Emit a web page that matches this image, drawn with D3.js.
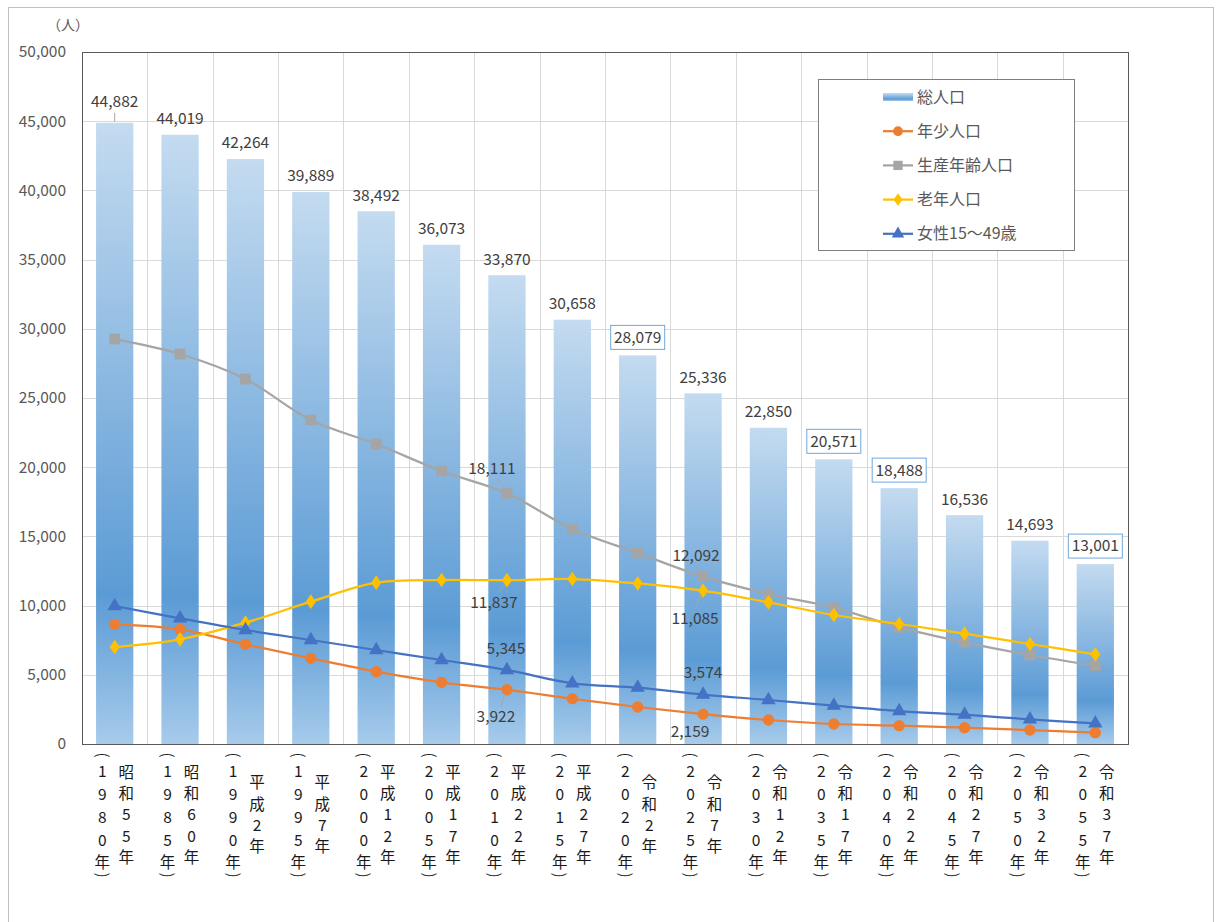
<!DOCTYPE html>
<html>
<head>
<meta charset="utf-8">
<script src="https://cdn.jsdelivr.net/npm/d3@7"></script>
<style>
  body { margin: 0; background: #fff; }
  text { font-family: "Noto Sans CJK JP", "Noto Sans", sans-serif; }
</style>
</head>
<body>
<svg width="1221" height="922"></svg>
<script>
// data
var years = ["1980", "1985", "1990", "1995", "2000", "2005", "2010", "2015",
             "2020", "2025", "2030", "2035", "2040", "2045", "2050", "2055"];
var eras = ["昭和55年", "昭和60年", "平成2年", "平成7年", "平成12年", "平成17年", "平成22年", "平成27年",
            "令和2年", "令和7年", "令和12年", "令和17年", "令和22年", "令和27年", "令和32年", "令和37年"];
var total = [44882, 44019, 42264, 39889, 38492, 36073, 33870, 30658,
             28079, 25336, 22850, 20571, 18488, 16536, 14693, 13001];
var young = [8646, 8284, 7201, 6190, 5226, 4455, 3922, 3275,
             2673, 2159, 1734, 1445, 1325, 1180, 1011, 819];
var working = [29261, 28178, 26371, 23409, 21675, 19724, 18111, 15534,
               13800, 12092, 10838, 9850, 8430, 7348, 6430, 5660];
var elderly = [7008, 7562, 8766, 10283, 11656, 11849, 11837, 11921,
               11608, 11085, 10236, 9320, 8670, 7972, 7225, 6478];
var women = [9971, 9080, 8237, 7514, 6792, 6069, 5345, 4383,
             4070, 3574, 3179, 2770, 2384, 2119, 1782, 1493];
var boxedYears = ["2020", "2035", "2040", "2055"];
var yTicks = [0, 5000, 10000, 15000, 20000, 25000, 30000, 35000, 40000, 45000, 50000];

var svg = d3.select("svg");
var pLeft = 82, pRight = 1128, pTop = 52, pBottom = 744;
var fmt = d3.format(",");

var x = d3.scaleBand()
    .domain(years)
    .range([pLeft, pRight])
    .paddingInner(0.43)
    .paddingOuter(0.215);
var y = d3.scaleLinear().domain([0, 50000]).range([pBottom, pTop]);
var cx = d => x(d) + x.bandwidth() / 2;

var defs = svg.append("defs");
var grad = defs.append("linearGradient")
    .attr("id", "barGrad")
    .attr("x1", 0).attr("y1", 0).attr("x2", 0).attr("y2", 1);
grad.append("stop").attr("offset", 0).attr("stop-color", "#c4dbf0");
grad.append("stop").attr("offset", 0.76).attr("stop-color", "#5b9bd5");
grad.append("stop").attr("offset", 1).attr("stop-color", "#a7cbeb");

// outer frame
svg.append("rect")
    .attr("x", 8.5).attr("y", 7.5).attr("width", 1205).attr("height", 930)
    .attr("fill", "none").attr("stroke", "#bfbfbf");

// grid
svg.append("g").selectAll("line")
    .data(yTicks)
    .enter().append("line")
    .attr("x1", pLeft).attr("x2", pRight)
    .attr("y1", d => Math.round(y(d)) + 0.5).attr("y2", d => Math.round(y(d)) + 0.5)
    .attr("stroke", "#d9d9d9");
svg.append("g").selectAll("line")
    .data(years.slice(1))
    .enter().append("line")
    .attr("x1", d => Math.round(x(d) - x.step() * 0.215) + 0.5)
    .attr("x2", d => Math.round(x(d) - x.step() * 0.215) + 0.5)
    .attr("y1", pTop).attr("y2", pBottom)
    .attr("stroke", "#d9d9d9");

// y tick labels
svg.append("g").selectAll("text")
    .data(yTicks)
    .enter().append("text")
    .attr("x", 66).attr("y", d => y(d))
    .attr("dy", "0.35em")
    .attr("text-anchor", "end")
    .attr("font-size", 15.5)
    .attr("fill", "#595959")
    .text(d => fmt(d));
svg.append("text")
    .attr("x", 68).attr("y", 25)
    .attr("dy", "0.35em")
    .attr("text-anchor", "middle")
    .attr("font-size", 14)
    .attr("fill", "#595959")
    .text("（人）");

// bars
svg.append("g").selectAll("rect")
    .data(years)
    .enter().append("rect")
    .attr("x", d => x(d))
    .attr("width", x.bandwidth())
    .attr("y", (d, i) => y(total[i]))
    .attr("height", (d, i) => pBottom - y(total[i]))
    .attr("fill", "url(#barGrad)");

// plot border
svg.append("rect")
    .attr("x", pLeft + 0.5).attr("y", pTop + 0.5)
    .attr("width", pRight - pLeft).attr("height", pBottom - pTop)
    .attr("fill", "none").attr("stroke", "#595959");

// lines
var line = d3.line()
    .x((d, i) => cx(years[i]))
    .y(d => y(d))
    .curve(d3.curveCatmullRom.alpha(0.5));

var series = [
    { name: "年少人口", values: young, color: "#ed7d31", marker: "circle" },
    { name: "生産年齢人口", values: working, color: "#a5a5a5", marker: "square" },
    { name: "老年人口", values: elderly, color: "#ffc000", marker: "diamond" },
    { name: "女性15～49歳", values: women, color: "#4472c4", marker: "triangle" }
];

function markerPath(type, k) {
    k = k || 1;
    if (type === "circle") return d3.symbol(d3.symbolCircle, 100 * k)();
    if (type === "square") return d3.symbol(d3.symbolSquare, 115 * k)();
    if (type === "diamond") return d3.symbol(d3.symbolDiamond, 62 * k)();
    return d3.symbol(d3.symbolTriangle, 90 * k)();
}

series.forEach(s => {
    var g = svg.append("g");
    g.append("path")
        .attr("d", line(s.values))
        .attr("fill", "none")
        .attr("stroke", s.color)
        .attr("stroke-width", 2.25);
    g.selectAll("path.m")
        .data(s.values)
        .enter().append("path")
        .attr("class", "m")
        .attr("transform", (d, i) => "translate(" + [cx(years[i]), y(d)] + ")" +
            (s.marker === "diamond" ? " scale(1.2,1)" : ""))
        .attr("d", markerPath(s.marker))
        .attr("fill", s.color);
});

// bar labels
var barLabels = svg.append("g");
years.forEach((yr, i) => {
    var lx = cx(yr), ly = y(total[i]) - 16;
    if (i === 0) {
        ly = y(total[i]) - 21;
        barLabels.append("line")
            .attr("x1", lx).attr("x2", lx)
            .attr("y1", ly + 11).attr("y2", y(total[i]) - 1)
            .attr("stroke", "#a6a6a6");
    }
    if (boxedYears.indexOf(yr) >= 0) {
        ly = y(total[i]) - 18;
        barLabels.append("rect")
            .attr("x", lx - 27).attr("y", ly - 12)
            .attr("width", 54).attr("height", 24)
            .attr("fill", "#fff")
            .attr("stroke", "#6fa8dc");
    }
    barLabels.append("text")
        .attr("x", lx).attr("y", ly)
        .attr("dy", "0.35em")
        .attr("text-anchor", "middle")
        .attr("font-size", 15.5)
        .attr("fill", "#404040")
        .text(fmt(total[i]));
});

// line labels (2010 and 2025)
var lineLabels = [
    { s: 1, i: 6, dx: -15, dy: -25, lead: true },
    { s: 2, i: 6, dx: -13, dy: 22, lead: true },
    { s: 3, i: 6, dx: -1, dy: -21, lead: false },
    { s: 0, i: 6, dx: -11, dy: 27, lead: true },
    { s: 1, i: 9, dx: -7, dy: -21, lead: true },
    { s: 2, i: 9, dx: -8, dy: 28, lead: true },
    { s: 3, i: 9, dx: 0, dy: -22, lead: false },
    { s: 0, i: 9, dx: -13, dy: 17, lead: false }
];
lineLabels.forEach(l => {
    var v = series[l.s].values[l.i];
    var px = cx(years[l.i]), py = y(v);
    if (l.lead) {
        var ey = py + l.dy + (l.dy < 0 ? 10 : -10);
        svg.append("line")
            .attr("x1", px + l.dx + (l.dx < -9 ? 5 : 0)).attr("y1", ey)
            .attr("x2", px - 2).attr("y2", py + (l.dy < 0 ? -5 : 4))
            .attr("stroke", "#a6a6a6");
    }
    svg.append("text")
        .attr("x", px + l.dx).attr("y", py + l.dy)
        .attr("dy", "0.35em")
        .attr("text-anchor", "middle")
        .attr("font-size", 15.5)
        .attr("fill", "#404040")
        .text(fmt(v));
});

// x labels, vertical
var xl = svg.append("g").attr("font-size", 15.5).attr("fill", "#1a1a1a");
years.forEach((yr, i) => {
    var c = cx(yr);
    var lx = c - 12.5, rx = c + 11.5;
    xl.append("text")
        .attr("transform", "translate(" + [lx, 755] + ") rotate(90)")
        .attr("dy", "0.35em").attr("text-anchor", "middle")
        .text("(");
    yr.split("").forEach((ch, k) => {
        xl.append("text")
            .attr("x", lx).attr("y", 772 + k * 23)
            .attr("dy", "0.35em").attr("text-anchor", "middle")
            .text(ch);
    });
    xl.append("text")
        .attr("x", lx).attr("y", 863)
        .attr("dy", "0.35em").attr("text-anchor", "middle")
        .text("年");
    xl.append("text")
        .attr("transform", "translate(" + [lx, 875] + ") rotate(90)")
        .attr("dy", "0.35em").attr("text-anchor", "middle")
        .text(")");
    var chars = eras[i].split("");
    var step = 21.3;
    var y0 = 815 - (chars.length - 1) * step / 2;
    chars.forEach((ch, k) => {
        xl.append("text")
            .attr("x", rx).attr("y", y0 + k * step)
            .attr("dy", "0.35em").attr("text-anchor", "middle")
            .text(ch);
    });
});

// legend
var lg = svg.append("g");
lg.append("rect")
    .attr("x", 818.5).attr("y", 79.5).attr("width", 256).attr("height", 171)
    .attr("fill", "#fff").attr("stroke", "#7f7f7f");
var legendItems = [{ name: "総人口", bar: true }].concat(series);
legendItems.forEach((s, k) => {
    var ly = 97 + k * 34.2;
    if (s.bar) {
        lg.append("rect")
            .attr("x", 883).attr("y", ly - 4).attr("width", 30).attr("height", 8)
            .attr("fill", "url(#barGrad)");
    } else {
        lg.append("line")
            .attr("x1", 883).attr("x2", 913).attr("y1", ly).attr("y2", ly)
            .attr("stroke", s.color).attr("stroke-width", 2.25);
        lg.append("path")
            .attr("transform", "translate(" + [898, ly] + ")" + (s.marker === "diamond" ? " scale(1.2,1)" : ""))
            .attr("d", markerPath(s.marker, 0.75))
            .attr("fill", s.color);
    }
    lg.append("text")
        .attr("x", 917).attr("y", ly)
        .attr("dy", "0.35em")
        .attr("font-size", 16)
        .attr("fill", "#595959")
        .text(s.name);
});
</script>
</body>
</html>
